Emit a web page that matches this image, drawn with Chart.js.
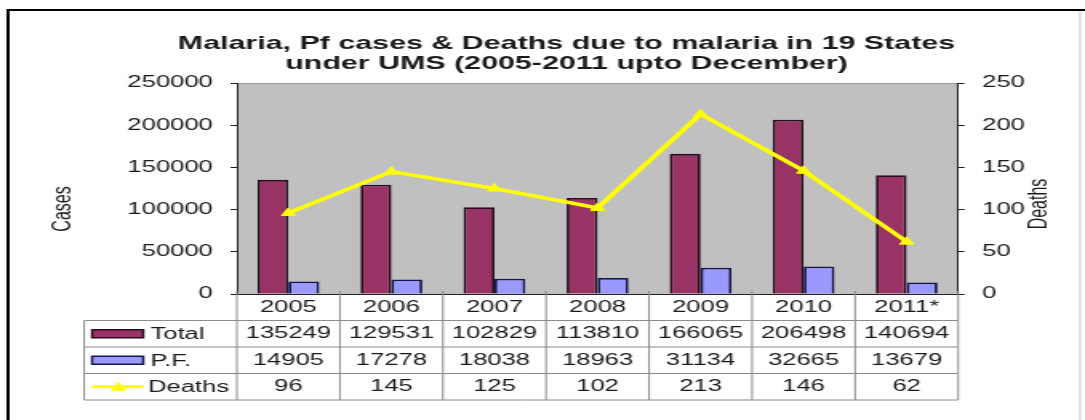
<!DOCTYPE html>
<html>
<head>
<meta charset="utf-8">
<script src="https://cdn.jsdelivr.net/npm/chart.js@4.4.1/dist/chart.umd.min.js"></script>
<style>
  html, body { margin: 0; padding: 0; background: #fff; }
</style>
</head>
<body>
<!-- the original picture is stretched sideways, so the canvas is drawn narrow and widened by its style -->
<canvas id="miChart" width="678" height="420" style="display:block;width:1085px;height:420px"></canvas>
<script>
const years = ["2005", "2006", "2007", "2008", "2009", "2010", "2011*"];
const totalCases = [135249, 129531, 102829, 113810, 166065, 206498, 140694];
const pfCases = [14905, 17278, 18038, 18963, 31134, 32665, 13679];
const deaths = [96, 145, 125, 102, 213, 146, 62];
const casesTicks = [0, 50000, 100000, 150000, 200000, 250000];
const deathsTicks = [0, 50, 100, 150, 200, 250];

const FONT = "'Liberation Sans', Arial, sans-serif";
const TEXT = "#1a1a1a";
const ROW_H = 26.5;

// each x label is a column of the data table: year, total, pf, deaths
const columns = years.map((y, i) => [y, String(totalCases[i]), String(pfCases[i]), String(deaths[i])]);

const tablePlugin = {
  id: "dataTable",
  beforeDraw(chart) {
    const { ctx, chartArea: a } = chart;
    ctx.save();
    ctx.fillStyle = "#c0c0c0";
    ctx.fillRect(a.left, a.top, a.right - a.left, a.bottom - a.top);
    ctx.strokeStyle = "#9a9a9a";
    ctx.lineWidth = 1;
    ctx.beginPath();
    ctx.moveTo(a.left, a.top + 0.5);
    ctx.lineTo(a.right, a.top + 0.5);
    ctx.stroke();
    ctx.restore();
  },
  afterDraw(chart) {
    const { ctx, chartArea: a, scales } = chart;
    const top = a.bottom;
    const bottom = top + ROW_H * 4;
    const colW = (a.right - a.left) / years.length;
    const labelLeft = 52.5;

    ctx.save();
    // outer frame
    ctx.strokeStyle = "#000";
    ctx.lineWidth = 2;
    ctx.beginPath();
    ctx.moveTo(5, 420);
    ctx.lineTo(5, 10);
    ctx.lineTo(678, 10);
    ctx.stroke();
    ctx.strokeStyle = "#c8c8c8";
    ctx.lineWidth = 1;
    ctx.beginPath();
    ctx.moveTo(675, 11);
    ctx.lineTo(675, 420);
    ctx.stroke();

    // table grid
    ctx.strokeStyle = "#8c8c8c";
    ctx.lineWidth = 1;
    ctx.beginPath();
    for (let r = 1; r <= 4; r++) {
      const y = top + r * ROW_H;
      ctx.moveTo(labelLeft, y);
      ctx.lineTo(a.right, y);
    }
    ctx.moveTo(labelLeft, top + ROW_H);
    ctx.lineTo(labelLeft, bottom);
    for (let k = 0; k <= years.length; k++) {
      const x = a.left + k * colW;
      ctx.moveTo(x, top - 3);
      ctx.lineTo(x, bottom);
    }
    ctx.stroke();

    // row names with legend keys
    const ds = chart.data.datasets;
    const keyL = 57.5, keyR = 89.5;
    ctx.font = "16px " + FONT;
    ctx.textBaseline = "middle";
    ctx.textAlign = "left";
    [1, 2, 0].forEach((d, r) => {
      const yc = top + (r + 1.5) * ROW_H;
      const set = ds[d];
      if (set.type === "line") {
        ctx.strokeStyle = set.borderColor;
        ctx.lineWidth = 3;
        ctx.beginPath();
        ctx.moveTo(keyL, yc);
        ctx.lineTo(keyR, yc);
        ctx.stroke();
        ctx.fillStyle = set.backgroundColor;
        ctx.beginPath();
        ctx.moveTo(74, yc - 5);
        ctx.lineTo(79, yc + 4);
        ctx.lineTo(69, yc + 4);
        ctx.closePath();
        ctx.fill();
      } else {
        ctx.fillStyle = set.backgroundColor;
        ctx.fillRect(keyL, yc - 4, keyR - keyL, 8);
        ctx.strokeStyle = set.borderColor;
        ctx.lineWidth = 1.5;
        ctx.strokeRect(keyL, yc - 4, keyR - keyL, 8);
      }
      ctx.fillStyle = TEXT;
      ctx.fillText(set.label, set.type === "line" ? 92.5 : 94, yc + 1);
    });

    // axis titles, both read upwards
    const rotated = (text, x, y) => {
      ctx.save();
      ctx.translate(x, y);
      ctx.rotate(-Math.PI / 2);
      ctx.textAlign = "center";
      ctx.fillText(text, 0, 0);
      ctx.restore();
    };
    ctx.font = "16px " + FONT;
    ctx.fillStyle = TEXT;
    rotated("Cases", scales.y.left + 9.5, 209);
    rotated("Deaths", scales.y1.right - 28, 204);
    ctx.restore();
  }
};

const ctx = document.getElementById("miChart").getContext("2d");
new Chart(ctx, {
  type: "bar",
  data: {
    labels: columns,
    datasets: [
      {
        type: "line",
        label: "Deaths",
        data: deaths,
        yAxisID: "y1",
        borderColor: "#ffff00",
        backgroundColor: "#ffff00",
        borderWidth: 3.5,
        pointStyle: "triangle",
        pointRadius: 5,
        pointBorderWidth: 1,
        tension: 0,
        order: 0
      },
      {
        type: "bar",
        label: "Total",
        data: totalCases,
        yAxisID: "y",
        backgroundColor: "#993366",
        borderColor: "#2a0c1c",
        borderWidth: 1.8,
        categoryPercentage: 0.6,
        barPercentage: 1,
        order: 1
      },
      {
        type: "bar",
        label: "P.F.",
        data: pfCases,
        yAxisID: "y",
        backgroundColor: "#9999ff",
        borderColor: "#16164f",
        borderWidth: 1.8,
        categoryPercentage: 0.6,
        barPercentage: 1,
        order: 2
      }
    ]
  },
  options: {
    responsive: false,
    animation: false,
    devicePixelRatio: 1,
    layout: { padding: { left: 30, right: 0, top: 34, bottom: 20 } },
    plugins: {
      legend: { display: false },
      tooltip: { enabled: false },
      title: {
        display: true,
        text: ["Malaria, Pf cases & Deaths due to malaria in 19 States", "under UMS (2005-2011 upto December)"],
        color: TEXT,
        font: { family: FONT, size: 19, weight: "bold", lineHeight: "20px" },
        padding: { top: 0, bottom: 9 }
      }
    },
    scales: {
      x: {
        offset: true,
        grid: { display: false, drawTicks: false },
        border: { display: true, color: "#222", width: 1 },
        ticks: {
          autoSkip: false,
          maxRotation: 0,
          padding: 0,
          color: TEXT,
          font: { family: FONT, size: 16, lineHeight: ROW_H + "px" }
        },
        afterFit(s) { s.height = ROW_H * 4; }
      },
      y: {
        position: "left",
        min: 0,
        max: 250000,
        afterBuildTicks(s) { s.ticks = casesTicks.map(v => ({ value: v })); },
        grid: { drawOnChartArea: false, tickLength: 4, color: "#222" },
        border: { color: "#222" },
        ticks: { padding: 11, color: TEXT, font: { family: FONT, size: 16 }, callback: v => String(v) },
        afterFit(s) { s.width = 118; }
      },
      y1: {
        position: "right",
        min: 0,
        max: 250,
        afterBuildTicks(s) { s.ticks = deathsTicks.map(v => ({ value: v })); },
        grid: { drawOnChartArea: false, tickLength: 4, color: "#222" },
        border: { color: "#222" },
        ticks: { padding: 11, color: TEXT, font: { family: FONT, size: 16 }, callback: v => String(v) },
        afterFit(s) { s.width = 79.25; }
      }
    }
  },
  plugins: [tablePlugin]
});
</script>
</body>
</html>
